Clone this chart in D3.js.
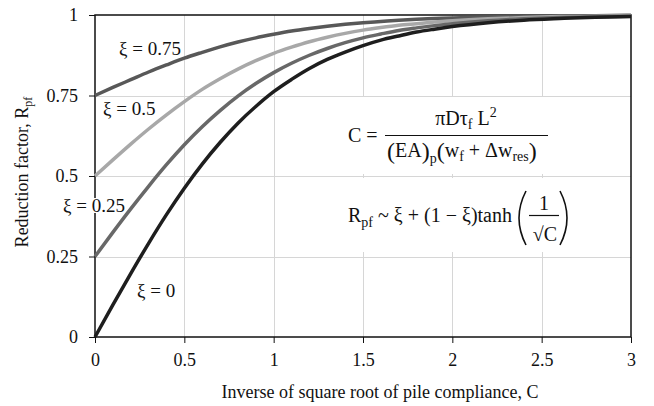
<!DOCTYPE html>
<html>
<head>
<meta charset="utf-8">
<script src="https://cdn.jsdelivr.net/npm/d3@7"></script>
<style>
  html, body { margin: 0; padding: 0; background: #fff; }
  svg { display: block; }
  text { font-family: "Liberation Serif", "Times New Roman", serif; fill: #111; }
</style>
</head>
<body>
<svg id="chart" width="654" height="406"></svg>
<script>
// Abscissa: inverse of square root of pile compliance
const xValues = [0, 0.1, 0.2, 0.3, 0.4, 0.5, 0.6, 0.7, 0.8, 0.9, 1.0, 1.1, 1.2, 1.3, 1.4,
                 1.5, 1.6, 1.7, 1.8, 1.9, 2.0, 2.2, 2.4, 2.6, 2.8, 3.0];

// Reduction factor R_pf for each residual ratio ξ
const rXi075 = [0.750, 0.775, 0.799, 0.823, 0.845, 0.866, 0.884, 0.901, 0.916, 0.929, 0.940,
                0.950, 0.958, 0.965, 0.971, 0.976, 0.980, 0.984, 0.987, 0.989, 0.991,
                0.994, 0.996, 0.997, 0.998, 0.999];
const rXi050 = [0.500, 0.550, 0.599, 0.646, 0.690, 0.731, 0.769, 0.802, 0.832, 0.858, 0.881,
                0.900, 0.917, 0.931, 0.943, 0.953, 0.961, 0.968, 0.973, 0.978, 0.982,
                0.988, 0.992, 0.995, 0.996, 0.998];
const rXi025 = [0.250, 0.325, 0.398, 0.468, 0.535, 0.597, 0.653, 0.703, 0.748, 0.787, 0.821,
                0.850, 0.875, 0.896, 0.914, 0.929, 0.941, 0.952, 0.960, 0.967, 0.973,
                0.982, 0.988, 0.992, 0.994, 0.996];
const rXi000 = [0.000, 0.100, 0.197, 0.291, 0.380, 0.462, 0.537, 0.604, 0.664, 0.716, 0.762,
                0.800, 0.834, 0.862, 0.885, 0.905, 0.922, 0.935, 0.947, 0.956, 0.964,
                0.976, 0.984, 0.989, 0.993, 0.995];

const seriesNames = ["ξ = 0.75", "ξ = 0.5", "ξ = 0.25", "ξ = 0"];
const seriesValues = [rXi075, rXi050, rXi025, rXi000];
const seriesColors = ["#585858", "#a8a8a8", "#686868", "#1e1e1e"];

const xTicks = [0, 0.5, 1, 1.5, 2, 2.5, 3];
const xTickLabels = ["0", "0.5", "1", "1.5", "2", "2.5", "3"];
const yTicks = [0, 0.25, 0.5, 0.75, 1];
const yTickLabels = ["0", "0.25", "0.5", "0.75", "1"];

const svg = d3.select("#chart");
const plotLeft = 95, plotRight = 631, plotTop = 15, plotBottom = 337;

const x = d3.scaleLinear().domain([0, 3]).range([plotLeft, plotRight]);
const y = d3.scaleLinear().domain([0, 1]).range([plotBottom, plotTop]);

// grid
const grid = svg.append("g").attr("stroke", "#d6d6d6").attr("stroke-width", 1);
grid.selectAll("line.v").data(xTicks.slice(1, -1)).join("line")
  .attr("x1", d => Math.round(x(d)) + 0.5).attr("x2", d => Math.round(x(d)) + 0.5)
  .attr("y1", plotTop).attr("y2", plotBottom);
grid.selectAll("line.h").data(yTicks.slice(1, -1)).join("line")
  .attr("x1", plotLeft).attr("x2", plotRight)
  .attr("y1", d => Math.round(y(d)) + 0.5).attr("y2", d => Math.round(y(d)) + 0.5);

// white panels behind the two formulas
svg.append("rect").attr("x", 335).attr("y", 97).attr("width", 240).attr("height", 77).attr("fill", "#fff");
svg.append("rect").attr("x", 335).attr("y", 178).attr("width", 240).attr("height", 74).attr("fill", "#fff");

// axes
const xAxis = d3.axisBottom(x).tickValues(xTicks)
  .tickFormat((d, i) => xTickLabels[i]).tickSize(6).tickPadding(10);
const yAxis = d3.axisLeft(y).tickValues(yTicks)
  .tickFormat((d, i) => yTickLabels[i]).tickSize(6).tickPadding(11);

const gx = svg.append("g").attr("transform", `translate(0,${plotBottom})`).call(xAxis);
const gy = svg.append("g").attr("transform", `translate(${plotLeft},0)`).call(yAxis);
[gx, gy].forEach(g => {
  g.select(".domain").remove();
  g.selectAll(".tick line").attr("stroke", "#111").attr("stroke-width", 1);
  g.selectAll(".tick text").attr("font-size", 18).attr("fill", "#111")
    .attr("font-family", "Liberation Serif, serif");
});

// frame
svg.append("rect").attr("x", plotLeft).attr("y", plotTop)
  .attr("width", plotRight - plotLeft).attr("height", plotBottom - plotTop)
  .attr("fill", "none").attr("stroke", "#111").attr("stroke-width", 1.5);

// curves
const line = d3.line()
  .x((d, i) => x(xValues[i]))
  .y(d => y(d))
  .curve(d3.curveMonotoneX);

svg.append("g").selectAll("path").data(seriesValues).join("path")
  .attr("d", d => line(d))
  .attr("fill", "none")
  .attr("stroke", (d, i) => seriesColors[i])
  .attr("stroke-width", 3.5)
  .attr("stroke-linecap", "butt");

// series labels
const labelPos = [[119, 55], [103, 115], [63, 212], [137, 297]];
const labels = svg.append("g");
seriesNames.forEach((name, i) => {
  const t = labels.append("text")
    .attr("x", labelPos[i][0]).attr("y", labelPos[i][1])
    .attr("font-size", 19).text(name);
  if (i === 2) {
    const bb = t.node().getBBox();
    labels.insert("rect", "text")
      .attr("x", bb.x + 28).attr("y", bb.y + 3).attr("width", 10).attr("height", bb.height - 6)
      .attr("fill", "#fff");
  }
});

// axis titles
svg.append("text")
  .attr("x", 380).attr("y", 398).attr("text-anchor", "middle").attr("font-size", 18)
  .text("Inverse of square root of pile compliance, C");

const yt = svg.append("text")
  .attr("transform", "translate(28,172) rotate(-90)")
  .attr("text-anchor", "middle").attr("font-size", 18);
yt.append("tspan").text("Reduction factor, R");
yt.append("tspan").attr("font-size", 12).attr("dy", 4).text("pf");

// formula for compliance C
const eq = svg.append("g").attr("font-size", 20);
eq.append("text").attr("x", 348).attr("y", 142).attr("font-size", 20).text("C =");
eq.append("line").attr("x1", 385).attr("x2", 548).attr("y1", 135.5).attr("y2", 135.5)
  .attr("stroke", "#111").attr("stroke-width", 1.2);
const num = eq.append("text").attr("x", 466).attr("y", 125).attr("text-anchor", "middle").attr("font-size", 20);
num.append("tspan").text("πDτ");
num.append("tspan").attr("font-size", 14).attr("dy", 4).text("f");
num.append("tspan").attr("dy", -4).text(" L");
num.append("tspan").attr("font-size", 14).attr("dy", -8).text("2");

const den = eq.append("text").attr("x", 387).attr("y", 157).attr("font-size", 20);
den.append("tspan").attr("font-size", 24).attr("dy", 2).text("(");
den.append("tspan").attr("dy", -2).text("EA");
den.append("tspan").attr("font-size", 24).attr("dy", 2).text(")");
den.append("tspan").attr("font-size", 14).attr("dy", 4).text("p");
den.append("tspan").attr("font-size", 24).attr("dy", -4).text("(");
den.append("tspan").attr("dy", -2).text("w");
den.append("tspan").attr("font-size", 14).attr("dy", 4).text("f");
den.append("tspan").attr("dy", -4).text(" + Δw");
den.append("tspan").attr("font-size", 14).attr("dy", 4).text("res");
den.append("tspan").attr("font-size", 24).attr("dy", -2).text(")");

// approximation for R_pf
const eq2 = svg.append("text").attr("x", 348).attr("y", 222).attr("font-size", 20);
eq2.append("tspan").text("R");
eq2.append("tspan").attr("font-size", 14).attr("dy", 5).text("pf");
eq2.append("tspan").attr("dy", -5).text(" ~ ξ + (1 − ξ)tanh");

// large brackets around 1/√C
const paren = d3.path();
paren.moveTo(526, 191); paren.quadraticCurveTo(512, 218, 526, 245);
paren.moveTo(560, 191); paren.quadraticCurveTo(574, 218, 560, 245);
svg.append("path").attr("d", paren.toString()).attr("fill", "none")
  .attr("stroke", "#111").attr("stroke-width", 1.6);
svg.append("text").attr("x", 544).attr("y", 210).attr("text-anchor", "middle").attr("font-size", 20).text("1");
svg.append("line").attr("x1", 529).attr("x2", 559).attr("y1", 215.5).attr("y2", 215.5)
  .attr("stroke", "#111").attr("stroke-width", 1.2);
svg.append("text").attr("x", 545).attr("y", 241).attr("text-anchor", "middle").attr("font-size", 20).text("√C");
</script>
</body>
</html>
